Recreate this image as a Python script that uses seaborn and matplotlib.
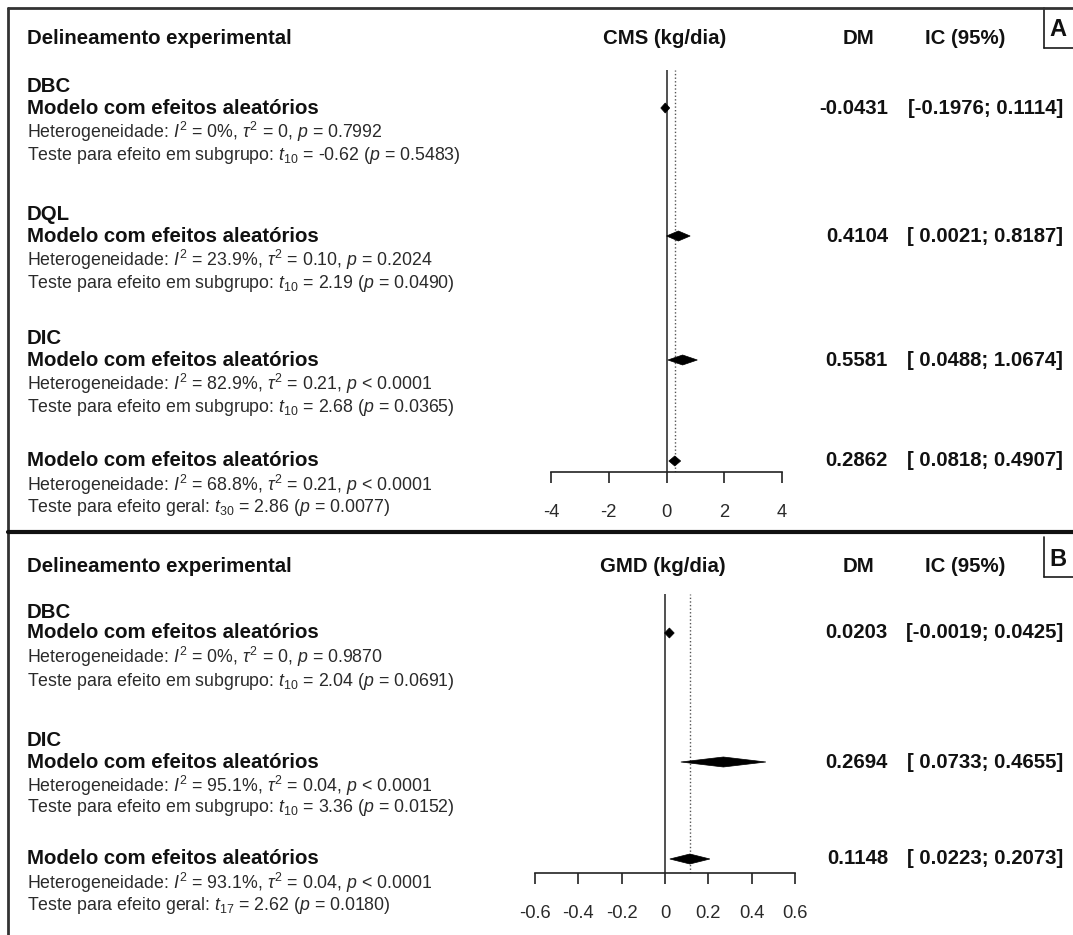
import matplotlib
matplotlib.use("Agg")
import matplotlib.pyplot as plt
import seaborn as sns
from matplotlib.lines import Line2D

# ---------------- data ----------------
groups_A = ["DBC", "DQL", "DIC"]
dm_A = [-0.0431, 0.4104, 0.5581]
lo_A = [-0.1976, 0.0021, 0.0488]
hi_A = [0.1114, 0.8187, 1.0674]
i2_A = ["0%", "23.9%", "82.9%"]
tau2_A = ["0", "0.10", "0.21"]
phet_A = ["= 0.7992", "= 0.2024", "< 0.0001"]
tsub_A = ["-0.62", "2.19", "2.68"]
dfsub_A = ["10", "10", "10"]
psub_A = ["0.5483", "0.0490", "0.0365"]
overall_A = dict(dm=0.2862, lo=0.0818, hi=0.4907, i2="68.8%", tau2="0.21",
                 phet="< 0.0001", t="2.86", df="30", p="0.0077")
ticks_A = [-4, -2, 0, 2, 4]
ticklabels_A = ["-4", "-2", "0", "2", "4"]

groups_B = ["DBC", "DIC"]
dm_B = [0.0203, 0.2694]
lo_B = [-0.0019, 0.0733]
hi_B = [0.0425, 0.4655]
i2_B = ["0%", "95.1%"]
tau2_B = ["0", "0.04"]
phet_B = ["= 0.9870", "< 0.0001"]
tsub_B = ["2.04", "3.36"]
dfsub_B = ["10", "10"]
psub_B = ["0.0691", "0.0152"]
overall_B = dict(dm=0.1148, lo=0.0223, hi=0.2073, i2="93.1%", tau2="0.04",
                 phet="< 0.0001", t="2.62", df="17", p="0.0180")
ticks_B = [-0.6, -0.4, -0.2, 0, 0.2, 0.4, 0.6]
ticklabels_B = ["-0.6", "-0.4", "-0.2", "0", "0.2", "0.4", "0.6"]

# ---------------- style ----------------
sns.set_theme(style="white")
plt.rcParams["font.family"] = ["Liberation Sans", "DejaVu Sans"]
plt.rcParams["mathtext.fontset"] = "custom"
plt.rcParams["mathtext.rm"] = "Liberation Sans"
plt.rcParams["mathtext.it"] = "Liberation Sans:italic"
plt.rcParams["mathtext.bf"] = "Liberation Sans:bold"
plt.rcParams["axes.unicode_minus"] = False

W, H = 1073, 935
fig = plt.figure(figsize=(W / 100, H / 100), dpi=100)
fig.patch.set_facecolor("white")

BOLD = 14.7
NORM = 12.8
TICK = 13.2
TXT = "#111111"
TXT2 = "#2a2a2a"


def fx(x):
    return x / W


def fy(y):
    return 1 - y / H


def t(x, y, s, **kw):
    fig.text(fx(x), fy(y), s, va="center", **kw)


def line(xs, ys, lw, color="#1a1a1a"):
    fig.add_artist(Line2D([fx(v) for v in xs], [fy(v) for v in ys], lw=lw,
                          color=color, transform=fig.transFigure))


def het(i2, tau2, ph):
    return (r"Heterogeneidade: $I^2$ = " + i2 +
            r", $\tau^2$ = " + tau2 + r", $p$ " + ph)


def panel(top, header_x, xlabel, groups, dm, lo, hi, i2, tau2, phet, tsub,
          dfsub, psub, overall, ticks, ticklabels, ax_box, rows, ov_rows,
          letter):
    # headers
    t(27, top, "Delineamento experimental", fontsize=BOLD, weight="bold", color=TXT)
    t(header_x, top, xlabel, fontsize=BOLD, weight="bold", color=TXT, ha="center")
    t(858, top, "DM", fontsize=BOLD, weight="bold", color=TXT, ha="center")
    t(965, top, "IC (95%)", fontsize=BOLD, weight="bold", color=TXT, ha="center")

    left, right, ytop, ybot = ax_box
    ax = fig.add_axes([fx(left), fy(ybot), (right - left) / W, (ybot - ytop) / H])
    ax.set_xlim(ticks[0], ticks[-1])
    ax.set_ylim(ybot, ytop)
    ax.patch.set_alpha(0)
    sns.despine(ax=ax, left=True, top=True, right=True)
    ax.spines["bottom"].set_color("#222222")
    ax.spines["bottom"].set_linewidth(1.2)
    ax.set_yticks([])
    ax.set_xticks(ticks)
    ax.set_xticklabels(ticklabels)
    ax.tick_params(axis="x", direction="out", length=8, width=1.2,
                   color="#222222", pad=15, labelsize=TICK, labelcolor=TXT2,
                   bottom=True)
    ax.axvline(0, color="#333333", lw=1.2, zorder=1)
    ax.axvline(overall["dm"], color="#555555", lw=1.0, ls=(0, (1, 1.6)), zorder=1)

    h = 5
    for i, g in enumerate(groups):
        yn, ym, yh, yt = rows[i]
        t(27, yn, g, fontsize=BOLD, weight="bold", color=TXT)
        t(27, ym, "Modelo com efeitos aleatórios", fontsize=BOLD, weight="bold", color=TXT)
        t(27, yh, het(i2[i], tau2[i], phet[i]), fontsize=NORM, color=TXT2)
        t(27, yt, r"Teste para efeito em subgrupo: $t_{" + dfsub[i] + r"}$ = " +
          tsub[i] + r" ($p$ = " + psub[i] + ")", fontsize=NORM, color=TXT2)
        t(888, ym, f"{dm[i]:.4f}", fontsize=BOLD, weight="bold", color=TXT, ha="right")
        t(1063, ym, f"[{lo[i]:7.4f}; {hi[i]:.4f}]", fontsize=BOLD, weight="bold",
          color=TXT, ha="right")
        ax.fill([lo[i], dm[i], hi[i], dm[i]], [ym, ym - h, ym, ym + h],
                color="black", lw=0.5, ec="black", zorder=3, clip_on=False)

    ym, yh, yt = ov_rows
    o = overall
    t(27, ym, "Modelo com efeitos aleatórios", fontsize=BOLD, weight="bold", color=TXT)
    t(27, yh, het(o["i2"], o["tau2"], o["phet"]), fontsize=NORM, color=TXT2)
    t(27, yt, r"Teste para efeito geral: $t_{" + o["df"] + r"}$ = " + o["t"] +
      r" ($p$ = " + o["p"] + ")", fontsize=NORM, color=TXT2)
    t(888, ym, f"{o['dm']:.4f}", fontsize=BOLD, weight="bold", color=TXT, ha="right")
    t(1063, ym, f"[{o['lo']:7.4f}; {o['hi']:.4f}]", fontsize=BOLD, weight="bold",
      color=TXT, ha="right")
    ax.fill([o["lo"], o["dm"], o["hi"], o["dm"]], [ym, ym - h, ym, ym + h],
            color="black", lw=0.5, ec="black", zorder=3, clip_on=False)

    # letter box
    line([1044, 1044], [top - 30, top + 10], 1.2)
    line([1044, 1073], [top + 10, top + 10], 1.2)
    t(1058, top - 8, letter, fontsize=17, weight="bold", color=TXT, ha="center")
    return ax


panel(38, 665, "CMS (kg/dia)", groups_A, dm_A, lo_A, hi_A, i2_A, tau2_A, phet_A,
      tsub_A, dfsub_A, psub_A, overall_A, ticks_A, ticklabels_A,
      (551, 782, 70, 472),
      [(86, 108, 132, 155), (214, 236, 260, 283), (338, 360, 384, 408)],
      (461, 485, 508), "A")

panel(567, 663, "GMD (kg/dia)", groups_B, dm_B, lo_B, hi_B, i2_B, tau2_B, phet_B,
      tsub_B, dfsub_B, psub_B, overall_B, ticks_B, ticklabels_B,
      (535, 795, 594, 873),
      [(612, 633, 657, 681), (740, 762, 786, 808)],
      (859, 883, 906), "B")

# frame lines
line([8, 1073], [8, 8], 2.0, "#333333")
line([8, 8], [8, 935], 2.0, "#333333")
line([8, 1073], [532, 532], 3.0, "#111111")

fig.savefig("out.png", dpi=100, facecolor="white")
